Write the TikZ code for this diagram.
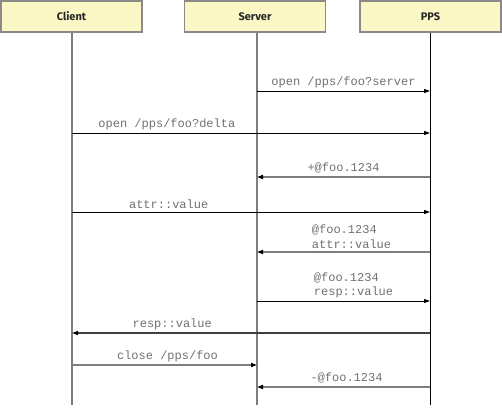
\documentclass[tikz,border=0pt]{standalone}
\usepackage{fontspec}
\setmainfont{Fira Sans}
\newfontfamily\msgfont{Liberation Mono}
\usetikzlibrary{positioning,arrows.meta}
\definecolor{boxfill}{HTML}{FCF8C6}
\definecolor{boxline}{HTML}{8A8A8A}
\definecolor{msgtext}{HTML}{707070}
\definecolor{msggrey}{HTML}{7E7E7E}
\tikzset{
  actor/.style={draw=boxline, fill=boxfill, line width=1.2pt, minimum width=141pt,
    minimum height=31pt, inner sep=0pt, font=\bfseries\fontsize{11}{13}\selectfont, text=black!85},
  lifeline/.style={draw=msggrey, line width=2pt},
  tip/.style={-{Triangle[length=6pt,width=4pt,color=black]}},
  msg/.style={draw=black, line width=0.9pt, tip},
  greymsg/.style={draw=msggrey, line width=2pt, tip},
  darkmsg/.style={draw=black!75, line width=1.4pt, tip},
  msglabel/.style={text=msgtext, font=\msgfont\fontsize{12}{14.5}\selectfont, align=left, above, inner sep=2.5pt}
}
\begin{document}
\begin{tikzpicture}[x=1pt,y=-1pt]
  \useasboundingbox (0,0) rectangle (502,407);
  \node[actor] (client) at (71.5,16.5) {Client};
  \node[actor] (server) at (255,16.5) {Server};
  \node[actor] (pps)    at (430.5,16.5) {PPS};

  \coordinate (clientend) at (72,405);
  \coordinate (serverend) at (257,405);
  \coordinate (ppsend)    at (430,405);
  \draw[lifeline] (client.south -| clientend) -- (clientend);
  \draw[lifeline] (server.south -| serverend) -- (serverend);
  \draw[black, line width=1pt] (pps.south -| ppsend) -- (ppsend);

  % message rows
  \coordinate (r1) at (0,91);
  \coordinate (r2) at (0,133);
  \coordinate (r3) at (0,177);
  \coordinate (r4) at (0,212);
  \coordinate (r5) at (0,252);
  \coordinate (r6) at (0,301);
  \coordinate (r7) at (0,333);
  \coordinate (r8) at (0,365);
  \coordinate (r9) at (0,387);

  \draw[msg] (serverend |- r1) -- node[msglabel] {open /pps/foo?server} (ppsend |- r1);
  \draw[msg] (clientend |- r2) -- node[msglabel, pos=0.265] {open /pps/foo?delta} (ppsend |- r2);
  \draw[greymsg] (ppsend |- r3) -- node[msglabel] {+@foo.1234} (serverend |- r3);
  \draw[msg] (clientend |- r4) -- node[msglabel, pos=0.27] {attr::value} (ppsend |- r4);
  \draw[greymsg] (ppsend |- r5) -- node[msglabel, xshift=8pt] {@foo.1234\\attr::value} (serverend |- r5);
  \draw[msg] (serverend |- r6) -- node[msglabel, xshift=10pt] {@foo.1234\\resp::value} (ppsend |- r6);
  % back to the client
  \draw[darkmsg] (ppsend |- r7) -- node[msglabel, pos=0.72] {resp::value} (clientend |- r7);
  \draw[greymsg] (clientend |- r8) -- node[msglabel, xshift=3pt] {close /pps/foo} (serverend |- r8);
  \draw[greymsg] (ppsend |- r9) -- node[msglabel, xshift=3pt] {-@foo.1234} (serverend |- r9);
\end{tikzpicture}
\end{document}
